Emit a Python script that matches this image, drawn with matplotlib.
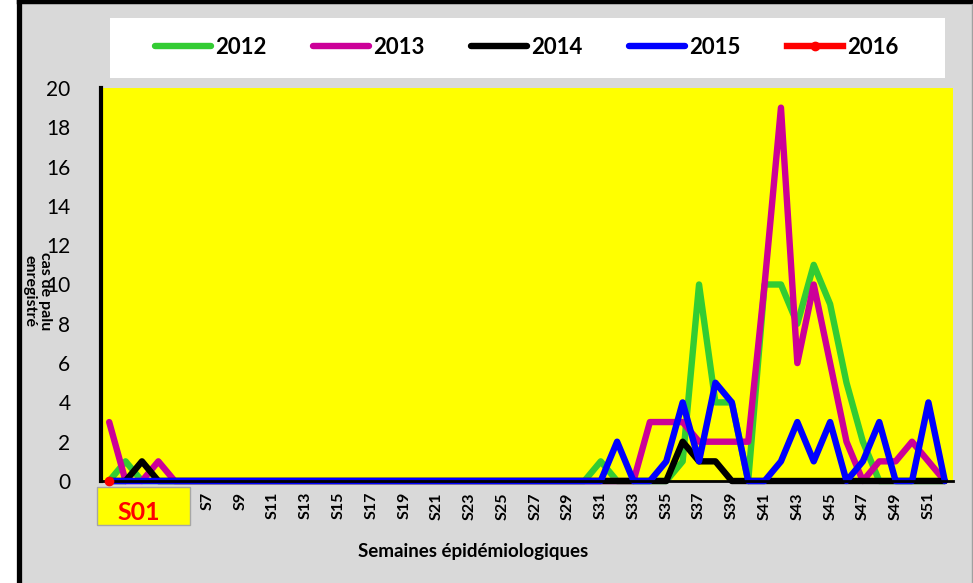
import numpy as np
import matplotlib
matplotlib.use('Agg')
import matplotlib.pyplot as plt
from matplotlib.patches import Rectangle
from matplotlib.lines import Line2D

plt.rcParams['font.family'] = ['Lato', 'DejaVu Sans']

# weekly counts, S1..S52
weeks = np.arange(1, 53)
cas_2012 = [0, 1, 0, 0, 0, 0, 0, 0, 0, 0, 0, 0, 0, 0, 0, 0, 0, 0, 0, 0,
            0, 0, 0, 0, 0, 0, 0, 0, 0, 0, 1, 0, 0, 0, 0, 1, 10, 4, 4, 0,
            10, 10, 8, 11, 9, 5, 2, 0, 0, 0, 0, 0]
cas_2013 = [3, 0, 0, 1, 0, 0, 0, 0, 0, 0, 0, 0, 0, 0, 0, 0, 0, 0, 0, 0,
            0, 0, 0, 0, 0, 0, 0, 0, 0, 0, 0, 0, 0, 3, 3, 3, 2, 2, 2, 2,
            10, 19, 6, 10, 6, 2, 0, 1, 1, 2, 1, 0]
cas_2014 = [0, 0, 1, 0, 0, 0, 0, 0, 0, 0, 0, 0, 0, 0, 0, 0, 0, 0, 0, 0,
            0, 0, 0, 0, 0, 0, 0, 0, 0, 0, 0, 0, 0, 0, 0, 2, 1, 1, 0, 0,
            0, 0, 0, 0, 0, 0, 0, 0, 0, 0, 0, 0]
cas_2015 = [0, 0, 0, 0, 0, 0, 0, 0, 0, 0, 0, 0, 0, 0, 0, 0, 0, 0, 0, 0,
            0, 0, 0, 0, 0, 0, 0, 0, 0, 0, 0, 2, 0, 0, 1, 4, 1, 5, 4, 0,
            0, 1, 3, 1, 3, 0, 1, 3, 0, 0, 4, 0]
weeks_2016 = [1]
cas_2016 = [0]

series = [('2012', cas_2012, '#33cc33'),
          ('2013', cas_2013, '#cc0099'),
          ('2014', cas_2014, 'black'),
          ('2015', cas_2015, '#0000ff')]

W, H = 973, 583
fig = plt.figure(figsize=(W / 100, H / 100), dpi=100)
fig.patch.set_facecolor('white')

# grey chart area with black frame on the left and top
fig.patches.append(Rectangle((18.5 / W, 0), (W - 18.5) / W, (H - 2) / H,
                             transform=fig.transFigure, facecolor='#d9d9d9',
                             edgecolor='none', zorder=-10))
fig.add_artist(Line2D([18.5 / W, 18.5 / W], [0, 1], color='black', lw=3.8))
fig.add_artist(Line2D([18.5 / W, 1], [1 - 2 / H, 1 - 2 / H], color='black', lw=3.2))
fig.add_artist(Line2D([971.5 / W, 971.5 / W], [0, 1 - 4 / H], color='#a0a0a0', lw=1))

# legend background
fig.patches.append(Rectangle((110 / W, 1 - 78 / H), 835 / W, 60 / H,
                             transform=fig.transFigure, facecolor='white',
                             edgecolor='none', zorder=-5))

ax = fig.add_axes([101 / W, 102 / H, 852 / W, 393 / H])
ax.set_facecolor('#ffff00')

lw = 4.6
handles = []
for name, vals, col in series:
    l, = ax.plot(weeks, vals, color=col, lw=lw, label=name, clip_on=False,
                 solid_capstyle='round')
    handles.append(l)
l, = ax.plot(weeks_2016, cas_2016, color='red', lw=lw, marker='o', ms=6,
             label='2016', clip_on=False, zorder=5)
handles.append(l)

ax.set_xlim(0.5, 52.5)
ax.set_ylim(0, 20)
ax.set_yticks(range(0, 21, 2))
ax.set_xticks(range(7, 52, 2))
ax.set_xticklabels(['S%d' % w for w in range(7, 52, 2)], rotation=90,
                   fontweight='bold', fontsize=11.5)
ax.tick_params(axis='y', length=0, pad=22, labelsize=15)
ax.tick_params(axis='x', length=0, pad=8)
for s in ['top', 'right']:
    ax.spines[s].set_visible(False)
ax.spines['left'].set_linewidth(3)
ax.spines['bottom'].set_linewidth(2)

# S01 label box
fig.patches.append(Rectangle((97 / W, 1 - 525 / H), 93 / W, 38 / H,
                             transform=fig.transFigure, facecolor='#ffff00',
                             edgecolor='#a6a6a6', lw=1, zorder=3))
fig.text(139 / W, 1 - 513 / H, 'S01', color='red', fontsize=18,
         fontweight='bold', ha='center', va='center', zorder=4)

fig.text(473 / W, 1 - 552 / H, 'Semaines épidémiologiques', fontsize=13.5,
         fontweight='bold', ha='center', va='center')
fig.text(37 / W, 1 - 291 / H, 'cas de palu\nenregistré', fontsize=11.5,
         fontweight='bold', rotation=270, ha='center', va='center',
         multialignment='center', linespacing=1.1)

fig.legend(handles=handles, loc='center', bbox_to_anchor=(527 / W, 1 - 47 / H),
           ncol=5, frameon=False, prop={'weight': 'bold', 'size': 16},
           handlelength=2.5, handletextpad=0.2, columnspacing=2.1)

fig.savefig('out.png', dpi=100)
